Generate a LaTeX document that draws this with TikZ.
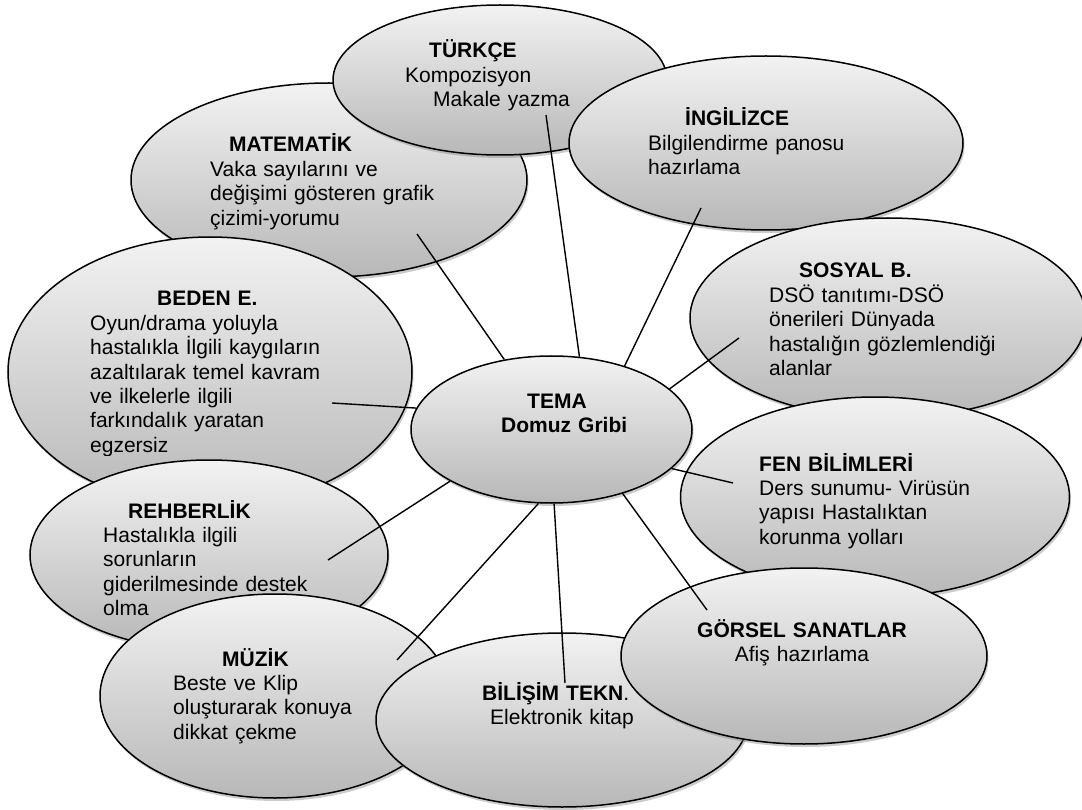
\documentclass[tikz,border=0pt]{standalone}
\usepackage{fontspec}
\setmainfont{Liberation Sans}
\usetikzlibrary{shapes.geometric,shadows}

\tikzset{
  blob/.style={ellipse, draw, line width=1.5pt, inner sep=0pt,
    top color=black!5, bottom color=black!28,
    drop shadow={shadow xshift=1.5pt, shadow yshift=-3pt, opacity=0.4}},
  txt/.style={font=\fontsize{21}{24.4}\selectfont, align=left, text width=330pt,
    inner sep=0pt, anchor=base west},
  spoke/.style={line width=1.4pt}
}

\begin{document}
\begin{tikzpicture}[x=1pt,y=-1pt]
\useasboundingbox (0,0) rectangle (1082,810);
%
\node[blob, minimum width=396pt, minimum height=194pt] (mat) at (329,180) {};
\node[txt] (matT) at (210,152) {\hspace*{19pt}\textbf{MATEMATİK}\\Vaka sayılarını ve\\değişimi gösteren grafik\\çizimi-yorumu};
%
\node[blob, minimum width=334pt, minimum height=150pt] (tur) at (500,80) {};
\node[txt] (turT) at (405,58) {\hspace*{24pt}\textbf{TÜRKÇE}\\Kompozisyon\\\hspace*{28pt}Makale yazma};
%
\node[blob, minimum width=394pt, minimum height=174pt] (ing) at (766,143) {};
\node[txt] (ingT) at (648,126) {\hspace*{37pt}\textbf{İNGİLİZCE}\\Bilgilendirme panosu\\hazırlama};
%
\node[blob, minimum width=396pt, minimum height=200pt] (sos) at (888,318) {};
\node[txt] (sosT) at (769,278) {\hspace*{30pt}\textbf{SOSYAL B.}\\DSÖ tanıtımı-DSÖ\\önerileri Dünyada\\hastalığın gözlemlendiği\\alanlar};
%
\node[blob, minimum width=389pt, minimum height=200pt] (fen) at (875,497) {};
\node[txt] (fenT) at (759,471) {\textbf{FEN BİLİMLERİ}\\Ders sunumu- Virüsün\\yapısı Hastalıktan\\korunma yolları};
%
\node[blob, minimum width=404pt, minimum height=270pt] (bed) at (210,372) {};
\begin{scope}
\clip (0,0) rectangle (420,455);
\node[txt] (bedT) at (90,306) {\hspace*{67pt}\textbf{BEDEN E.}\\Oyun/drama yoluyla\\hastalıkla İlgili kaygıların\\azaltılarak temel kavram\\ve ilkelerle ilgili\\farkındalık yaratan\\egzersiz};
\end{scope}
%
\node[blob, minimum width=358pt, minimum height=190pt] (reh) at (209,555) {};
\node[txt] (rehT) at (103,518) {\hspace*{25pt}\textbf{REHBERLİK}\\Hastalıkla ilgili\\sorunların\\giderilmesinde destek\\olma};
%
\node[blob, minimum width=350pt, minimum height=204pt] (muz) at (275,696) {};
\node[txt] (muzT) at (173,666) {\hspace*{49pt}\textbf{MÜZİK}\\Beste ve Klip\\oluşturarak konuya\\dikkat çekme};
%
\node[blob, minimum width=372pt, minimum height=174pt] (bil) at (562,720) {};
\node[txt] (bilT) at (482,700) {\textbf{BİLİŞİM TEKN}.\\\hspace*{8pt}Elektronik kitap};
%
\node[blob, minimum width=366pt, minimum height=176pt] (gor) at (804,656) {};
\node[txt, align=center, anchor=base] (gorT) at (802,637) {\textbf{GÖRSEL SANATLAR}\\Afiş hazırlama};
%
\node[blob, minimum width=281pt, minimum height=147pt] (tema) at (551.5,429.5) {};
\node[txt] (temaT) at (501,408) {\hspace*{26pt}\textbf{TEMA}\\\textbf{Domuz Gribi}};
%
\coordinate (turE) at (546,115);
\coordinate (matE) at (417,234);
\coordinate (ingE) at (701,208);
\coordinate (sosE) at (739,338);
\coordinate (bedE) at (332,403);
\coordinate (fenE) at (733,483);
\coordinate (rehE) at (328,560);
\coordinate (muzE) at (397,660);
\coordinate (bilE) at (565,683);
\coordinate (gorE) at (707,610);
%
\draw[spoke] (tema.69) -- (turE);
\draw[spoke] (tema.124) -- (matE);
\draw[spoke] (tema.41) -- (ingE);
\draw[spoke] (tema.19) -- (sosE);
\draw[spoke] (tema.171) -- (bedE);
\draw[spoke] (tema.-18) -- (fenE);
\draw[spoke] (tema.-153) -- (rehE);
\draw[spoke] (tema.-100) -- (muzE);
\draw[spoke] (tema.-88) -- (bilE);
\draw[spoke] (tema.-42) -- (gorE);
\end{tikzpicture}
\end{document}
